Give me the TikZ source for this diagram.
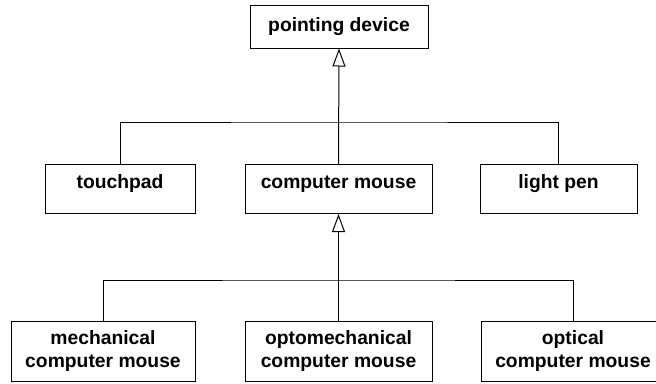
\documentclass[tikz,border=0pt]{standalone}
\usepackage{fontspec}
\setmainfont{Liberation Sans}
\usetikzlibrary{arrows.meta}
\tikzset{>={Triangle[open,length=18pt,width=13pt]}}
\tikzset{block/.style={draw,line width=1pt,fill=white,align=center,inner sep=0pt,
    minimum height=49pt,font=\bfseries\fontsize{19.3}{23}\selectfont},
  oneline/.style={text height=14pt,text depth=16pt},
  link/.style={line width=1pt}}

\begin{document}
\begin{tikzpicture}[x=1pt,y=-1pt]
    \useasboundingbox (0,0) rectangle (656,383);
    \node[block,minimum width=178pt,minimum height=43pt] (pd) at (339,26.5) {pointing device};
    \node[block,oneline,minimum width=150pt] (tp) at (120,189) {touchpad};
    \node[block,oneline,minimum width=187pt] (cm) at (338.5,189) {computer mouse};
    \node[block,oneline,minimum width=157pt] (lp) at (558.5,189) {light pen};
    \node[block,minimum width=184pt,minimum height=60pt] (mech) at (103,351) {mechanical\\computer mouse};
    \node[block,minimum width=187pt,minimum height=60pt] (opto) at (338.5,351) {optomechanical\\computer mouse};
    \node[block,minimum width=184pt,minimum height=60pt] (opt) at (573,351) {optical\\computer mouse};
    \coordinate (bar1) at (339,122);
    \coordinate (bar2) at (339,280);
    \draw[link,->] (cm.north) -- (pd.south);
    \draw[link] (tp.north) |- (bar1) -| (lp.north);
    \draw[link,->] (opto.north) -- (cm.south);
    \draw[link] (mech.north) |- (bar2) -| (opt.north);
\end{tikzpicture}
\end{document}
